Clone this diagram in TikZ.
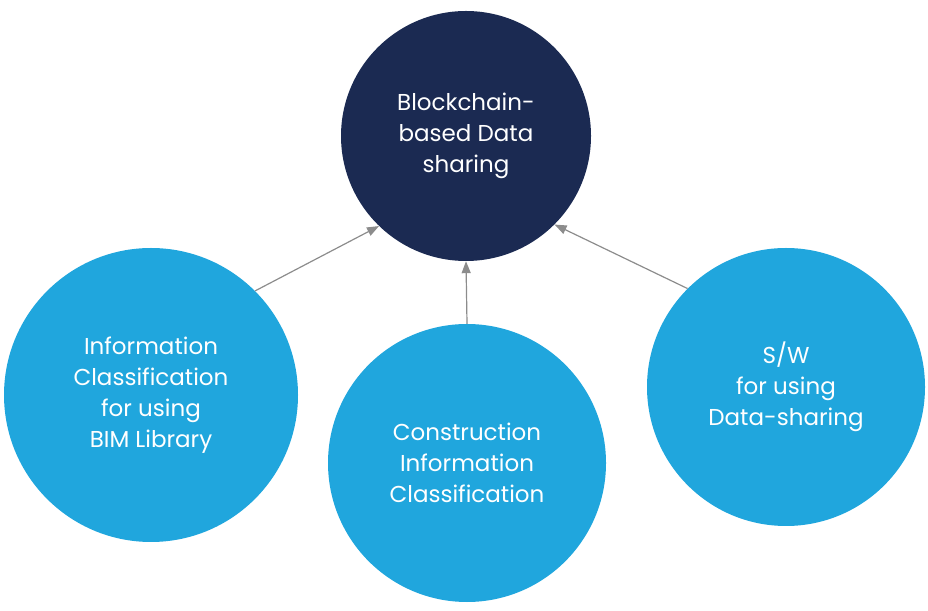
\documentclass[tikz,border=0pt]{standalone}
\usepackage{fontspec}
\setmainfont{Poppins}
\usepackage{xcolor}
\usepackage{tikz}
\usetikzlibrary{arrows.meta}
\definecolor{navy}{HTML}{1B2A52}
\definecolor{skyblue}{HTML}{20A6DD}
\definecolor{arrowgray}{HTML}{8C8C8C}

\begin{document}
\begin{tikzpicture}[x=1pt,y=1pt,
  bubble/.style={circle,inner sep=0pt,text=white,align=center,
    font=\fontsize{23}{31}\selectfont},
  link/.style={draw=arrowgray,line width=1.2pt,-{Triangle[length=12pt,width=9pt]}}]
\useasboundingbox (0,0) rectangle (928,610);
\node[bubble,fill=navy,minimum size=250pt] (chain) at (466,474) {Blockchain-\\based Data\\sharing};
\node[bubble,fill=skyblue,minimum size=294pt] (bim) at (151,215) {Information\\Classification\\for using\\BIM Library};
\node[bubble,fill=skyblue,minimum size=278pt] (cic) at (467,147) {Construction\\Information\\Classification};
\node[bubble,fill=skyblue,minimum size=278pt] (sw) at (786,223) {S/W\\for using\\Data-sharing};
\draw[link] (bim.45) -- (chain.226);
\draw[link] (cic.north) -- (chain.south);
\draw[link] (sw.135) -- (chain.315);
\end{tikzpicture}
\end{document}
